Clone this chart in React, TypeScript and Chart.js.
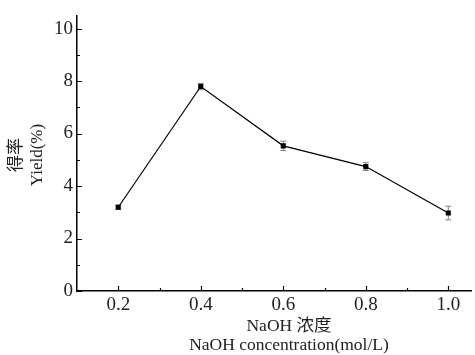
import React, { useEffect, useRef } from "react";
import { Chart, registerables } from "chart.js";

Chart.register(...registerables);

const concentrations = [0.2, 0.4, 0.6, 0.8, 1.0];
const yields = [3.19, 7.79, 5.53, 4.74, 2.97];
const yieldErrors = [0.08, 0.12, 0.18, 0.15, 0.26];
const xTickValues = [0.2, 0.4, 0.6, 0.8, 1.0];
const xMinorTicks = [0.3, 0.5, 0.7, 0.9];
const yTickValues = [0, 2, 4, 6, 8, 10];
const yMinorTicks = [1, 3, 5, 7, 9];
const yTitleLines = ["得率", "Yield(%)"];
const xTitleLines = ["NaOH 浓度", "NaOH concentration(mol/L)"];

const FONT = "'Liberation Serif', 'Noto Sans CJK SC', serif";

const customPlugin = {
  id: "custom",
  beforeDatasetsDraw(chart: any) {
    const ctx = chart.ctx;
    const xs = chart.scales.x;
    const ys = chart.scales.y;
    ctx.save();
    ctx.strokeStyle = "#808080";
    ctx.lineWidth = 1;
    concentrations.forEach((c, i) => {
      const px = xs.getPixelForValue(c);
      const top = ys.getPixelForValue(yields[i] + yieldErrors[i]);
      const bot = ys.getPixelForValue(yields[i] - yieldErrors[i]);
      ctx.beginPath();
      ctx.moveTo(px, top);
      ctx.lineTo(px, bot);
      ctx.moveTo(px - 3, top);
      ctx.lineTo(px + 3, top);
      ctx.moveTo(px - 3, bot);
      ctx.lineTo(px + 3, bot);
      ctx.stroke();
    });
    ctx.restore();
  },
  afterDraw(chart: any) {
    const ctx = chart.ctx;
    const xs = chart.scales.x;
    const ys = chart.scales.y;
    const area = chart.chartArea;
    ctx.save();
    ctx.strokeStyle = "#000";
    ctx.lineWidth = 1.2;
    ctx.beginPath();
    xTickValues.forEach((v) => {
      const px = Math.round(xs.getPixelForValue(v)) + 0.5;
      ctx.moveTo(px, area.bottom);
      ctx.lineTo(px, area.bottom - 5);
    });
    xMinorTicks.forEach((v) => {
      const px = Math.round(xs.getPixelForValue(v)) + 0.5;
      ctx.moveTo(px, area.bottom);
      ctx.lineTo(px, area.bottom - 3);
    });
    yTickValues.forEach((v) => {
      const py = Math.round(ys.getPixelForValue(v)) + 0.5;
      ctx.moveTo(area.left, py);
      ctx.lineTo(area.left + 5, py);
    });
    yMinorTicks.forEach((v) => {
      const py = Math.round(ys.getPixelForValue(v)) + 0.5;
      ctx.moveTo(area.left, py);
      ctx.lineTo(area.left + 3, py);
    });
    ctx.stroke();

    ctx.fillStyle = "#222";
    ctx.font = `17.5px ${FONT}`;
    ctx.textAlign = "center";
    ctx.textBaseline = "middle";
    const cx = 289;
    ctx.fillText(xTitleLines[0], cx, 326);
    ctx.fillText(xTitleLines[1], cx, 345);

    const cy = 155;
    ctx.font = `17px ${FONT}`;
    ctx.save();
    ctx.translate(17, cy);
    ctx.rotate(-Math.PI / 2);
    ctx.fillText(yTitleLines[0], 0, 0);
    ctx.restore();
    ctx.save();
    ctx.translate(38, cy);
    ctx.rotate(-Math.PI / 2);
    ctx.fillText(yTitleLines[1], 0, 0);
    ctx.restore();
    ctx.restore();
  },
};

export default function App() {
  const ref = useRef<HTMLCanvasElement>(null);
  useEffect(() => {
    if (!ref.current) return;
    const chart = new Chart(ref.current, {
      type: "line",
      data: {
        datasets: [
          {
            data: concentrations.map((c, i) => ({ x: c, y: yields[i] })),
            borderColor: "#000",
            borderWidth: 1.2,
            backgroundColor: "#000",
            pointStyle: "rect",
            pointRadius: 3.6,
            pointBorderWidth: 0,
            pointBackgroundColor: "#000",
            fill: false,
            tension: 0,
          },
        ],
      },
      options: {
        responsive: false,
        animation: false,
        layout: { padding: { top: 7.5, right: 0, left: 0, bottom: 0 } },
        plugins: { legend: { display: false }, tooltip: { enabled: false } },
        scales: {
          x: {
            type: "linear",
            min: 0.1,
            max: 1.055,
            afterBuildTicks: (s: any) => {
              s.ticks = xTickValues.map((v) => ({ value: v }));
            },
            afterFit: (s: any) => {
              s.height = 64;
            },
            grid: { display: false, drawTicks: false },
            border: { display: true, color: "#000", width: 1.5 },
            ticks: {
              padding: 3,
              color: "#222",
              font: { family: FONT, size: 19 },
              maxRotation: 0,
              autoSkip: false,
              callback: (v: any) => Number(v).toFixed(1),
            },
          },
          y: {
            type: "linear",
            min: 0,
            max: 10.5,
            afterBuildTicks: (s: any) => {
              s.ticks = yTickValues.map((v) => ({ value: v }));
            },
            afterFit: (s: any) => {
              s.width = 77;
            },
            grid: { display: false, drawTicks: false },
            border: { display: true, color: "#000", width: 1.5 },
            ticks: {
              padding: 4,
              color: "#222",
              font: { family: FONT, size: 19 },
              autoSkip: false,
              callback: (v: any) => String(v),
            },
          },
        },
      },
      plugins: [customPlugin],
    });
    return () => chart.destroy();
  }, []);
  return (
    <div style={{ position: "absolute", left: 0, top: 0, width: 475, height: 355, background: "#fff" }}>
      <canvas ref={ref} width={475} height={355} style={{ display: "block" }} />
    </div>
  );
}
